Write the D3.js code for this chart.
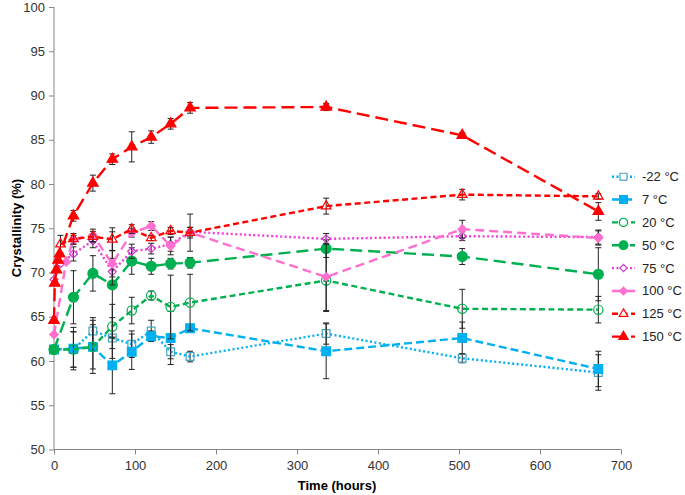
<!DOCTYPE html>
<html><head><meta charset="utf-8">
<script src="https://cdn.jsdelivr.net/npm/d3@7"></script>
<style>body{margin:0;background:#fff}svg{display:block;font-family:"Liberation Sans",Arial,sans-serif}</style>
</head><body><svg id="c" width="685" height="495"></svg>
<script>
// ---- data ----
const labels = ["-22 °C","7 °C","20 °C","50 °C","75 °C","100 °C","125 °C","150 °C"];
const tMain = [0,24,48,72,96,120,144,168,336,504,672];
const tM22 = tMain, t7 = tMain, t20 = tMain, t50 = tMain;
const yM22 = [61.3,61.3,63.4,62.6,61.9,63.4,61.05,60.5,63.1,60.3,58.7];
const eM22 = [0,2.0,1.5,2.3,1.5,1.2,0.8,0.6,1.2,0.5,2.0];
const y7 = [61.3,61.4,61.6,59.5,61.05,62.8,62.6,63.7,61.1,62.6,59.1];
const e7 = [0,2.4,3.0,3.2,2.0,0.6,3.0,0.4,3.1,1.8,2.0];
const y20 = [61.3,61.3,61.6,63.9,65.7,67.4,66.1,66.6,69.1,65.9,65.8];
const e20 = [0,2.0,2.5,2.5,1.5,0.5,3.6,3.2,3.5,2.2,1.5];
const y50 = [61.3,67.2,69.9,68.6,71.3,70.7,71.0,71.1,72.7,71.8,69.8];
const e50 = [0,3.0,2.0,6.0,1.5,0.9,0.6,0.6,1.0,0.9,3.0];
const t75 = [0,8,24,48,72,96,120,144,168,336,504,672];
const y75 = [69.2,71.0,72.1,73.6,70.1,72.4,72.7,73.2,74.6,73.8,74.1,74.0];
const e75 = [0,0,0.8,0.8,1.5,0.8,0.6,0.8,0.5,0.6,0.5,0.8];
const t100 = [0,15,24,48,72,96,120,144,168,336,504,672];
const y100 = [63.0,71.2,73.7,74.2,71.0,74.5,75.25,73.0,74.5,69.5,74.9,73.9];
const e100 = [0,0,0.5,0.7,1.5,0.5,0.5,1.0,0.6,3.8,1.0,0.8];
const t125 = [8,24,48,72,96,120,144,168,336,504,672];
const y125 = [73.2,73.8,74.05,73.75,74.9,73.9,74.7,74.5,77.5,78.8,78.6];
const e125 = [1.0,0.6,0.6,1.3,0.5,0.3,0.4,2.1,0.9,0.6,0.3];
const t150 = [0,1,3,5,7,24,48,72,96,120,144,168,336,504,672];
const y150 = [64.6,68.8,70.3,71.4,72.1,76.4,80.1,82.8,84.2,85.3,86.8,88.6,88.7,85.5,76.9];
const e150 = [0,0,0,0,0,0.6,0.9,0.6,1.7,0.7,0.6,0.6,0.4,0.3,1.0];
const xTicks = [0,100,200,300,400,500,600,700];
const yTicks = [50,55,60,65,70,75,80,85,90,95,100];

// ---- styles ----
const styles = [
  {line:"#00B0F0", dash:"2,2.5", sym:d3.symbolSquare, size:60, fill:"none", stroke:"#4BA3C3"},
  {line:"#00B0F0", dash:"8,4", sym:d3.symbolSquare, size:75, fill:"#00B0F0", stroke:"#00B0F0"},
  {line:"#00B050", dash:"6,3.5", sym:d3.symbolCircle, size:68, fill:"none", stroke:"#00B050"},
  {line:"#00B050", dash:"12,6", sym:d3.symbolCircle, size:78, fill:"#00B050", stroke:"#00B050"},
  {line:"#F03ED8", dash:"2,2.5", sym:d3.symbolDiamond2, size:42, fill:"none", stroke:"#C83CC8"},
  {line:"#FF6FCF", dash:"9,5", sym:d3.symbolDiamond2, size:48, fill:"#FF6FCF", stroke:"#FF6FCF"},
  {line:"#FF0000", dash:"6,3.5", sym:d3.symbolTriangle, size:40, fill:"none", stroke:"#FF0000"},
  {line:"#FF0000", dash:"13,6", sym:d3.symbolTriangle, size:48, fill:"#FF0000", stroke:"#FF0000"}
];
const seriesT = [tM22,t7,t20,t50,t75,t100,t125,t150];
const seriesY = [yM22,y7,y20,y50,y75,y100,y125,y150];
const seriesE = [eM22,e7,e20,e50,e75,e100,e125,e150];

const svg = d3.select("#c");
const x = d3.scaleLinear().domain([0,700]).range([54,621]);
const y = d3.scaleLinear().domain([50,100]).range([449.5,7]);

// axes
const gx = svg.append("g").attr("transform","translate(0,449.5)")
  .call(d3.axisBottom(x).tickValues(xTicks).tickSize(5).tickPadding(6));
const gy = svg.append("g").attr("transform","translate(54,0)")
  .call(d3.axisLeft(y).tickValues(yTicks).tickSize(5).tickPadding(4));
[gx,gy].forEach(g=>{
  g.selectAll("path,line").attr("stroke","#868686").attr("stroke-width",1);
  g.selectAll("text").attr("font-size",13).attr("fill","#333")
   .attr("font-family","'Liberation Sans',Arial,sans-serif");
});
gx.select(".domain").attr("d","M54,0H621");
gy.select(".domain").attr("d","M0,7V449.5");

svg.append("text").attr("x",337).attr("y",490).attr("text-anchor","middle")
  .attr("font-size",13).attr("font-weight","bold").attr("fill","#000").text("Time (hours)");
svg.append("text").attr("transform","translate(21,228) rotate(-90)").attr("text-anchor","middle")
  .attr("font-size",13).attr("font-weight","bold").attr("fill","#000").text("Crystallinity (%)");

// series
const plot = svg.append("g");
seriesT.forEach((ts,i)=>{
  const st = styles[i];
  const pts = ts.map((t,j)=>({t, v:seriesY[i][j], e:seriesE[i][j]}));
  const g = plot.append("g");
  const eb = g.selectAll("g.eb").data(pts.filter(p=>p.e>0)).join("g");
  eb.append("line").attr("x1",p=>x(p.t)).attr("x2",p=>x(p.t))
    .attr("y1",p=>y(p.v-p.e)).attr("y2",p=>y(p.v+p.e)).attr("stroke","#222").attr("stroke-width",1);
  [-1,1].forEach(s=>{
    eb.append("line").attr("x1",p=>x(p.t)-3).attr("x2",p=>x(p.t)+3)
      .attr("y1",p=>y(p.v+s*p.e)).attr("y2",p=>y(p.v+s*p.e)).attr("stroke","#222").attr("stroke-width",1);
  });
  g.append("path").datum(pts)
    .attr("d",d3.line().x(p=>x(p.t)).y(p=>y(p.v)))
    .attr("fill","none").attr("stroke",st.line).attr("stroke-width",2.4)
    .attr("stroke-dasharray",st.dash);
  g.selectAll("path.m").data(pts).join("path").attr("class","m")
    .attr("transform",p=>`translate(${x(p.t)},${y(p.v)})`)
    .attr("d",d3.symbol().type(st.sym).size(st.size))
    .attr("fill",st.fill).attr("stroke",st.stroke).attr("stroke-width",1.2);
});

// legend
const lg = svg.append("g");
labels.forEach((lab,i)=>{
  const st = styles[i];
  const yy = 176.7 + i*22.85;
  lg.append("line").attr("x1",612).attr("x2",635).attr("y1",yy).attr("y2",yy)
    .attr("stroke",st.line).attr("stroke-width",2.4).attr("stroke-dasharray",st.dash);
  lg.append("path").attr("transform",`translate(623.5,${yy})`)
    .attr("d",d3.symbol().type(st.sym).size(st.size*0.8))
    .attr("fill",st.fill==="none"?"#fff":st.fill).attr("stroke",st.stroke).attr("stroke-width",1.2);
  lg.append("text").attr("x",642).attr("y",yy+4.5).attr("font-size",13).attr("fill","#222").text(lab);
});
</script></body></html>
